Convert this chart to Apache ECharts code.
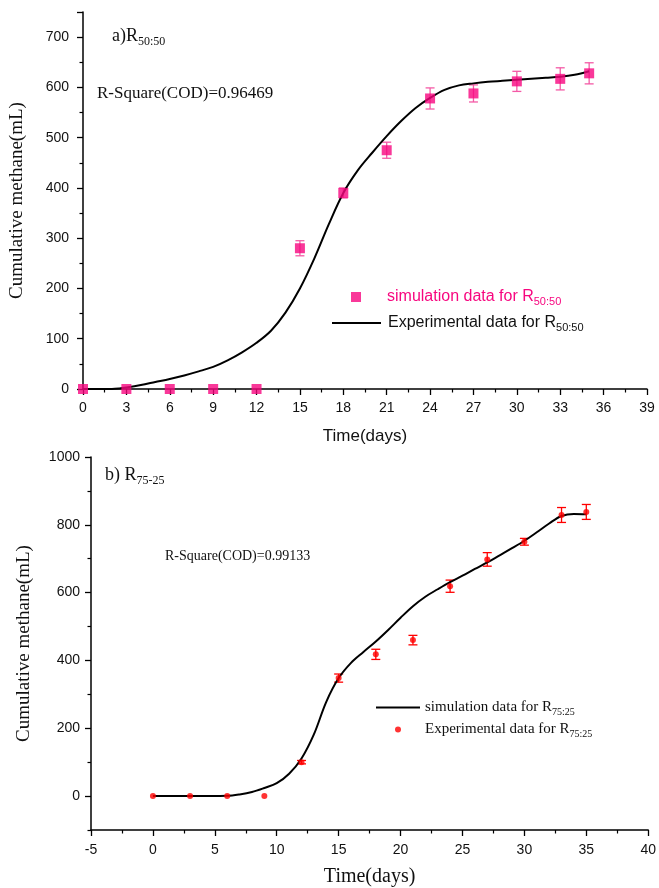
<!DOCTYPE html>
<html>
<head>
<meta charset="utf-8">
<script src="https://cdn.jsdelivr.net/npm/echarts@6/dist/echarts.min.js"></script>
<style>
html,body{margin:0;padding:0;background:#fff;}
#chart{width:659px;height:888px;}
</style>
</head>
<body>
<div id="chart"></div>
<script>
// ---------- Data: panel a) R50:50 ----------
const daysA = [0, 3, 6, 9, 12, 15, 18, 21, 24, 27, 30, 33, 35];
const simA  = [0, 0, 0, 0, 0, 280, 390, 475, 578, 588, 612, 617, 628];
const errA  = [0, 0, 0, 0, 0, 15, 10, 16, 21, 17, 20, 22, 21];
const curveDaysA = [0, 1, 2, 2.5, 3, 4, 5, 6, 7, 8, 9, 10, 11, 12, 13, 14, 15, 16, 17, 18, 19, 20, 21, 22, 23, 24, 25, 26, 27, 28, 29, 30, 31, 32, 33, 34, 35];
const curveA = [0, 0, 0, 1, 3, 8, 14, 20, 27, 35, 44, 57, 73, 92, 116, 152, 200, 260, 328, 390, 435, 470, 503, 533, 559, 579, 595, 604, 608, 611, 613, 615, 617, 619, 621, 625, 632];

// ---------- Data: panel b) R75-25 ----------
const daysB = [0, 3, 6, 9, 12, 15, 18, 21, 24, 27, 30, 33, 35];
const expB  = [0, 0, 0, 0, 100, 348, 418, 460, 619, 698, 750, 829, 838];
const errB  = [0, 0, 0, 0, 5, 12, 15, 14, 18, 20, 10, 22, 22];
const curveDaysB = [0, 3, 6, 7, 8, 9, 10, 11, 12, 13, 14, 15, 16, 17, 18, 19, 20, 21, 22, 23, 24, 25, 26, 27, 28, 29, 30, 31, 32, 33, 34, 35];
const curveB = [0, 0, 1, 5, 12, 24, 38, 66, 111, 182, 278, 348, 393, 425, 456, 490, 526, 560, 588, 610, 631, 650, 670, 689, 710, 731, 753, 778, 804, 826, 832, 831];

// ---------- Tick labels ----------
const yLabelsB = [0, 200, 400, 600, 800, 1000];
const yMinorB = [-100, 100, 300, 500, 700, 900];

// ---------- Names ----------
const nameSimA = 'simulation data for R50:50';
const nameExpA = 'Experimental data for R50:50';
const nameSimB = 'simulation data for R75:25';
const nameExpB = 'Experimental data for R75:25';

const PINK = '#f7067f';
const PINK_ERR = '#f45aa6';
const RED = '#ff0000';
const SANS = 'Liberation Sans';
const SERIF = 'Liberation Serif';
const LINE_ICON = 'path://M0,0 L100,0 L100,4 L0,4 Z';

function richName(name) {
  const i = name.lastIndexOf('R');
  return name.slice(0, i + 1) + '{sub|' + name.slice(i + 1) + '}';
}

function errRender(color) {
  return function (params, api) {
    const x = api.value(0), y = api.value(1), e = api.value(2);
    if (!e) return null;
    const t = api.coord([x, y + e]);
    const b = api.coord([x, y - e]);
    const w = 4.5;
    const st = { stroke: color, lineWidth: 1.3 };
    return {
      type: 'group',
      children: [
        { type: 'line', shape: { x1: t[0], y1: t[1], x2: b[0], y2: b[1] }, style: st },
        { type: 'line', shape: { x1: t[0] - w, y1: t[1], x2: t[0] + w, y2: t[1] }, style: st },
        { type: 'line', shape: { x1: b[0] - w, y1: b[1], x2: b[0] + w, y2: b[1] }, style: st }
      ]
    };
  };
}

const axisCommon = {
  axisLine: { show: true, onZero: false, lineStyle: { color: '#000', width: 1.5 } },
  axisTick: { show: true, inside: false, length: 6, lineStyle: { color: '#000', width: 1.3 } },
  minorTick: { show: true, splitNumber: 2, length: 3.5, lineStyle: { color: '#000', width: 1.2 } },
  splitLine: { show: false },
  minorSplitLine: { show: false }
};
const tickFont = { color: '#111', fontFamily: SANS, fontSize: 14 };

const chart = echarts.init(document.getElementById('chart'), null, { renderer: 'canvas' });

const option = {
  backgroundColor: '#fff',
  animation: false,
  grid: [
    { left: 83, top: 12, width: 564, height: 377 },
    { left: 91, top: 457, width: 559, height: 373 }
  ],
  xAxis: [
    Object.assign({}, axisCommon, {
      type: 'value', gridIndex: 0, min: 0, max: 39, interval: 3,
      axisLabel: Object.assign({ margin: 12 }, tickFont),
      name: 'Time(days)', nameLocation: 'middle', nameGap: 39,
      nameTextStyle: { fontFamily: SANS, fontSize: 17, color: '#111' }
    }),
    Object.assign({}, axisCommon, {
      type: 'value', gridIndex: 1, min: -5, max: 40, interval: 5,
      axisLabel: Object.assign({ margin: 13 }, tickFont),
      name: 'Time(days)', nameLocation: 'middle', nameGap: 37,
      nameTextStyle: { fontFamily: SERIF, fontSize: 20, color: '#111' }
    })
  ],
  yAxis: [
    Object.assign({}, axisCommon, {
      type: 'value', gridIndex: 0, min: 0, max: 750, interval: 100,
      axisLabel: Object.assign({ margin: 14, showMaxLabel: false,
        formatter: function (v) { return v > 700 ? '' : String(v); } }, tickFont),
      name: 'Cumulative methane(mL)', nameLocation: 'middle', nameRotate: 90, nameGap: 56,
      nameTextStyle: { fontFamily: SERIF, fontSize: 19, color: '#111' }
    }),
    Object.assign({}, axisCommon, {
      type: 'value', gridIndex: 1, min: -100, max: 1000,
      axisTick: { show: true, length: 6, customValues: yLabelsB, lineStyle: { color: '#000', width: 1.3 } },
      minorTick: { show: false },
      axisLabel: Object.assign({ margin: 11, customValues: yLabelsB,
        formatter: function (v) { return String(v); } }, tickFont),
      name: 'Cumulative methane(mL)', nameLocation: 'middle', nameRotate: 90, nameGap: 57,
      nameTextStyle: { fontFamily: SERIF, fontSize: 19, color: '#111' }
    }),
    {
      type: 'value', gridIndex: 1, min: -100, max: 1000, position: 'left',
      axisLine: { show: false, onZero: false },
      axisTick: { show: true, length: 3.5, customValues: yMinorB, lineStyle: { color: '#000', width: 1.2 } },
      axisLabel: { show: false },
      splitLine: { show: false }
    }
  ],
  legend: [
    {
      data: [{ name: nameSimA, icon: 'rect' }], left: 351, top: 289, padding: 0,
      itemWidth: 10, itemHeight: 10, selectedMode: false,
      formatter: richName,
      textStyle: { color: PINK, fontFamily: SANS, fontSize: 16, padding: [0, 0, 0, 21],
        rich: { sub: { fontSize: 11, color: PINK, fontFamily: SANS, verticalAlign: 'bottom', padding: [10, 0, 0, 0] } } }
    },
    {
      data: [{ name: nameExpA, icon: LINE_ICON }], left: 332, top: 315, padding: 0,
      itemWidth: 49, itemHeight: 2, selectedMode: false,
      formatter: richName,
      textStyle: { color: '#111', fontFamily: SANS, fontSize: 16, padding: [0, 0, 0, 2],
        rich: { sub: { fontSize: 11, color: '#111', fontFamily: SANS, verticalAlign: 'bottom', padding: [10, 0, 0, 0] } } }
    },
    {
      data: [{ name: nameSimB, icon: LINE_ICON }], left: 376, top: 700, padding: 0,
      itemWidth: 44, itemHeight: 2, selectedMode: false,
      formatter: richName,
      textStyle: { color: '#111', fontFamily: SERIF, fontSize: 15, padding: [0, 0, 0, 0],
        rich: { sub: { fontSize: 10, color: '#111', fontFamily: SERIF, verticalAlign: 'bottom', padding: [9, 0, 0, 0] } } }
    },
    {
      data: [{ name: nameExpB, icon: 'circle' }], left: 395, top: 722, padding: 0,
      itemWidth: 6, itemHeight: 6, selectedMode: false,
      formatter: richName,
      textStyle: { color: '#111', fontFamily: SERIF, fontSize: 15, padding: [0, 0, 0, 19],
        rich: { sub: { fontSize: 10, color: '#111', fontFamily: SERIF, verticalAlign: 'bottom', padding: [9, 0, 0, 0] } } }
    }
  ],
  graphic: [
    { type: 'text', left: 112, top: 27, style: {
      text: 'a)R{sub|50:50}', fontFamily: SERIF, fontSize: 18, fill: '#111',
      rich: { sub: { fontSize: 12, fontFamily: SERIF, fill: '#111', verticalAlign: 'bottom', padding: [11, 0, 0, 0] } } } },
    { type: 'text', left: 97, top: 85, style: {
      text: 'R-Square(COD)=0.96469', fontFamily: SERIF, fontSize: 17, fill: '#111' } },
    { type: 'text', left: 105, top: 466, style: {
      text: 'b) R{sub|75-25}', fontFamily: SERIF, fontSize: 18, fill: '#111',
      rich: { sub: { fontSize: 12, fontFamily: SERIF, fill: '#111', verticalAlign: 'bottom', padding: [11, 0, 0, 0] } } } },
    { type: 'text', left: 165, top: 549, style: {
      text: 'R-Square(COD)=0.99133', fontFamily: SERIF, fontSize: 14, fill: '#111' } }
  ],
  series: [
    {
      name: nameExpA, type: 'line', xAxisIndex: 0, yAxisIndex: 0,
      data: curveDaysA.map((d, i) => [d, curveA[i]]),
      smooth: 0.35, symbol: 'none', showSymbol: false, clip: true,
      lineStyle: { color: '#000', width: 2 }, itemStyle: { color: '#000' }, z: 3
    },
    {
      name: 'errA', type: 'custom', xAxisIndex: 0, yAxisIndex: 0,
      data: daysA.map((d, i) => [d, simA[i], errA[i]]),
      renderItem: errRender(PINK_ERR), encode: { x: 0, y: 1 }, z: 2, silent: true
    },
    {
      name: nameSimA, type: 'scatter', xAxisIndex: 0, yAxisIndex: 0,
      data: daysA.map((d, i) => [d, simA[i]]),
      symbol: 'rect', symbolSize: 10, itemStyle: { color: PINK }, z: 4
    },
    {
      name: nameSimB, type: 'line', xAxisIndex: 1, yAxisIndex: 1,
      data: curveDaysB.map((d, i) => [d, curveB[i]]),
      smooth: 0.35, symbol: 'none', showSymbol: false,
      lineStyle: { color: '#000', width: 2 }, itemStyle: { color: '#000' }, z: 3
    },
    {
      name: 'errB', type: 'custom', xAxisIndex: 1, yAxisIndex: 1,
      data: daysB.map((d, i) => [d, expB[i], errB[i]]),
      renderItem: errRender(RED), encode: { x: 0, y: 1 }, z: 2, silent: true
    },
    {
      name: nameExpB, type: 'scatter', xAxisIndex: 1, yAxisIndex: 1,
      data: daysB.map((d, i) => [d, expB[i]]),
      symbol: 'circle', symbolSize: 6, itemStyle: { color: RED }, z: 4
    }
  ]
};
chart.setOption(option);
</script>
</body>
</html>
